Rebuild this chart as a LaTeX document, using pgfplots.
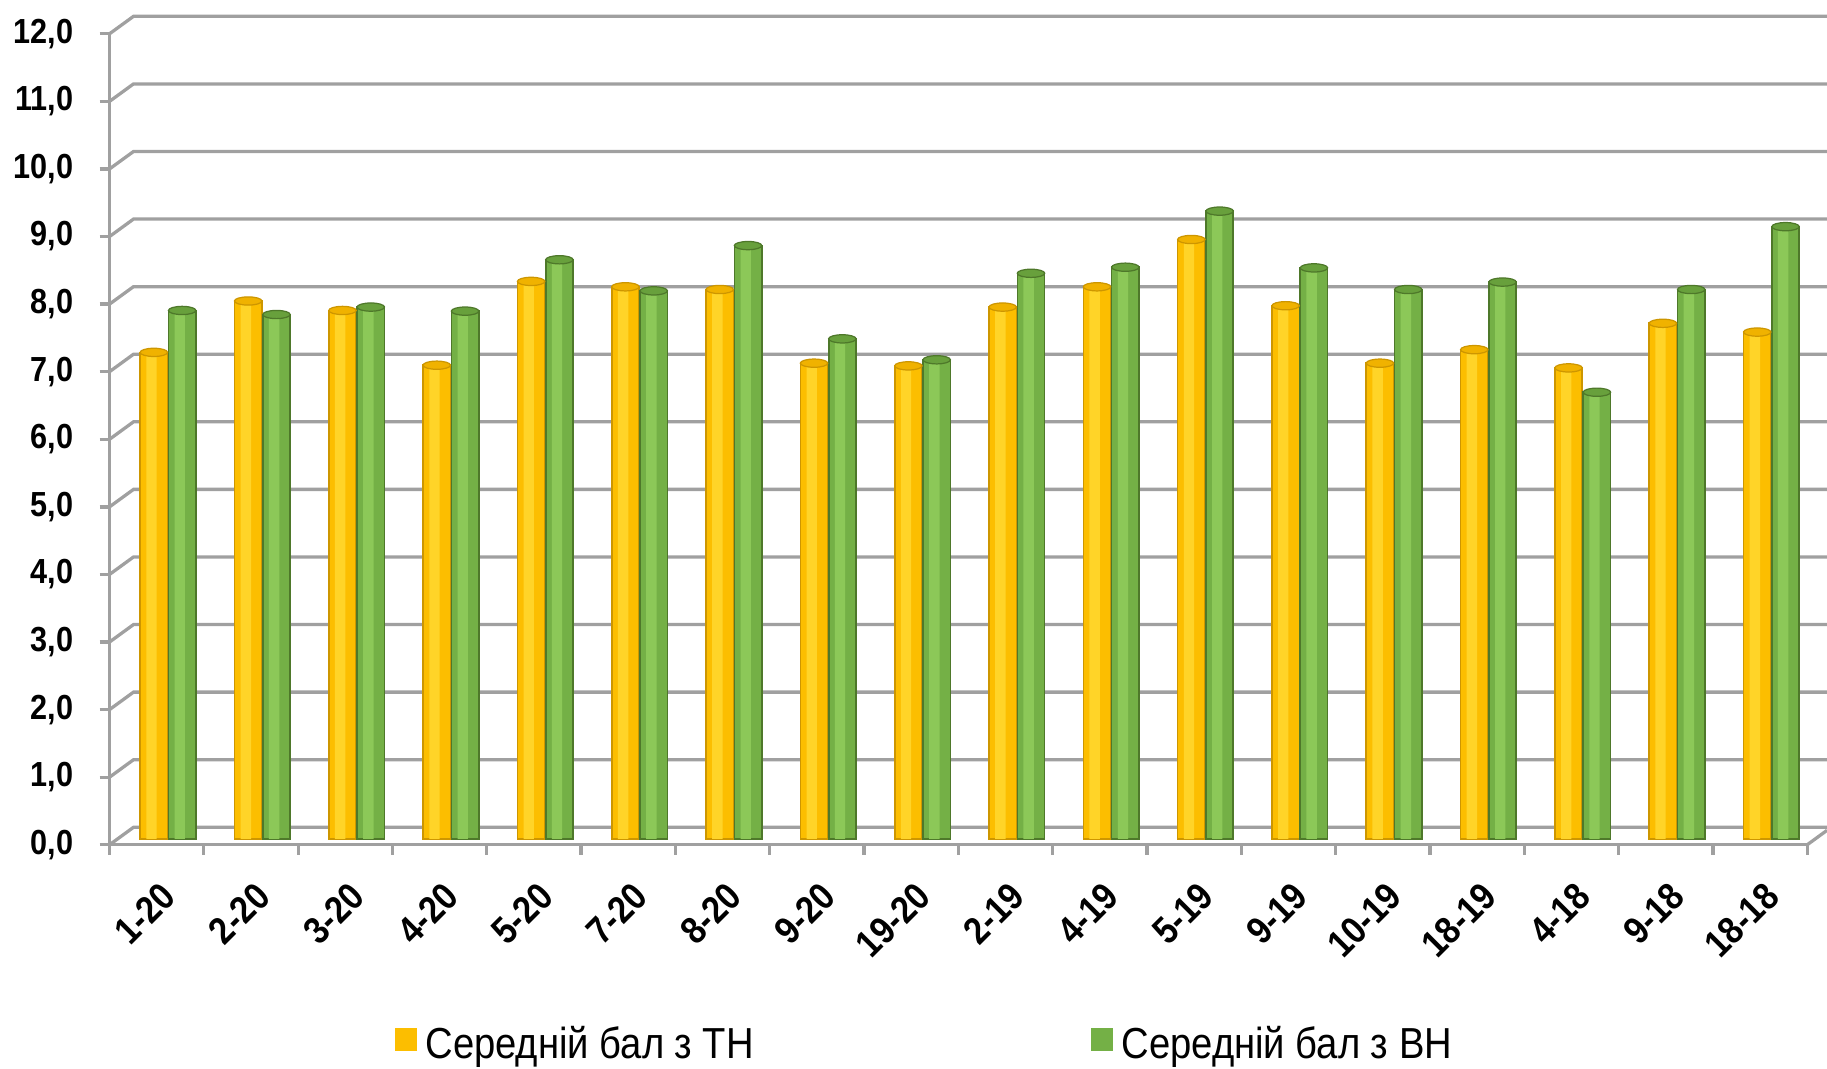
\documentclass[border=0pt]{standalone}
\usepackage{pgfplots}
\pgfplotsset{compat=1.18}
\usepackage{pgfplotstable}
\usepackage{fontspec}
\setmainfont{Liberation Sans}[FakeStretch=0.88]
\definecolor{gridc}{RGB}{160,160,160}
\definecolor{tnL}{RGB}{255,212,40}
\definecolor{tnM}{RGB}{252,190,0}
\definecolor{tnC}{RGB}{240,178,0}
\definecolor{tnE}{RGB}{205,150,0}
\definecolor{vnL}{RGB}{140,200,88}
\definecolor{vnM}{RGB}{116,176,70}
\definecolor{vnC}{RGB}{104,160,60}
\definecolor{vnE}{RGB}{78,120,42}
\pgfplotstableread{
x th vn
0 7.20 7.82
1 7.96 7.76
2 7.82 7.87
3 7.01 7.81
4 8.25 8.57
5 8.17 8.11
6 8.13 8.78
7 7.04 7.40
8 7.00 7.09
9 7.87 8.37
10 8.17 8.46
11 8.87 9.29
12 7.89 8.45
13 7.04 8.13
14 7.24 8.24
15 6.97 6.61
16 7.63 8.13
17 7.50 9.06
}\data
\begin{document}
\begin{tikzpicture}
\begin{axis}[
  set layers,
  scale only axis,
  width=145.7mm, height=69.6mm,
  xmin=-0.5, xmax=17.5, ymin=0, ymax=12,
  clip=false,
  axis lines*=left,
  axis line style={gridc, line width=0.8pt},
  tick align=outside,
  major tick length=0.86mm,
  tick style={gridc, line width=0.8pt},
  xtick={-0.5,0.5,...,17.5},
  xticklabels={},
  extra x ticks={0,1,...,17},
  extra x tick labels={1-20,2-20,3-20,4-20,5-20,7-20,8-20,9-20,19-20,2-19,4-19,5-19,9-19,10-19,18-19,4-18,9-18,18-18},
  extra x tick style={major tick length=0pt, tick style={draw=none},
    xticklabel style={rotate=45, anchor=north east, inner sep=1pt, xshift=-1.6mm, yshift=-1.9mm,
      font=\bfseries\fontsize{9.3}{10}\selectfont}},
  ytick={0,1,...,12},
  yticklabels={{0,0},{1,0},{2,0},{3,0},{4,0},{5,0},{6,0},{7,0},{8,0},{9,0},{10,0},{11,0},{12,0}},
  yticklabel style={anchor=east, xshift=-1.0mm, font=\bfseries\fontsize{8.5}{10}\selectfont},
  legend columns=2,
  legend cell align=left,
  legend style={at={(0.1675,-0.247)}, anchor=west, draw=none, fill=none,
    inner xsep=0pt, inner ysep=0pt,
    font=\fontsize{10.6}{12}\selectfont,
    /tikz/every even column/.append style={column sep=28.2mm}},
  barup/.style={yshift=0.5mm},
]
\pgfplotsinvokeforeach{0,1,2,3,4,5,6,7,8,9,10,11,12}{
  \draw[gridc, line width=0.8pt, on layer=axis background]
    (axis cs:-0.5,#1) -- ++(2.06mm,1.5mm) -- ([shift={(1.7mm,1.5mm)}]axis cs:17.5,#1);
}
\draw[gridc, line width=0.8pt, on layer=axis background] (axis cs:17.5,0) -- ++(1.7mm,1.24mm);
\addplot[barup, ybar, bar width=0.29, bar shift=-0.03, fill=tnM, draw=tnE, line width=0.4pt,
  legend image code/.code={\fill[tnM] (0mm,-0.9mm) rectangle (1.8mm,0.9mm);}]
  table[x=x, y=th]{\data};
\addlegendentry{Середній бал з ТН}
\addplot[barup, ybar, bar width=0.29, bar shift=0.27, fill=vnM, draw=vnE, line width=0.4pt,
  legend image code/.code={\fill[vnM] (0mm,-0.9mm) rectangle (1.8mm,0.9mm);}]
  table[x=x, y=vn]{\data};
\addlegendentry{Середній бал з ВН}
\addplot[barup, ybar, forget plot, bar width=0.11, bar shift=-0.055, fill=tnL, draw=none]
  table[x=x, y=th]{\data};
\addplot[barup, ybar, forget plot, bar width=0.11, bar shift=0.245, fill=vnL, draw=none]
  table[x=x, y=vn]{\data};
\addplot[barup, forget plot, only marks, mark=*, mark size=3.35pt,
  mark options={yscale=0.3, fill=tnC, draw=tnE, line width=0.3pt}]
  table[x expr=\thisrow{x}-0.03, y=th]{\data};
\addplot[barup, forget plot, only marks, mark=*, mark size=3.35pt,
  mark options={yscale=0.3, fill=vnC, draw=vnE, line width=0.3pt}]
  table[x expr=\thisrow{x}+0.27, y=vn]{\data};
\end{axis}
\pgfresetboundingbox
\useasboundingbox (-9.4mm,-19.2mm) rectangle (147.4mm,72.5mm);
\end{tikzpicture}
\end{document}
